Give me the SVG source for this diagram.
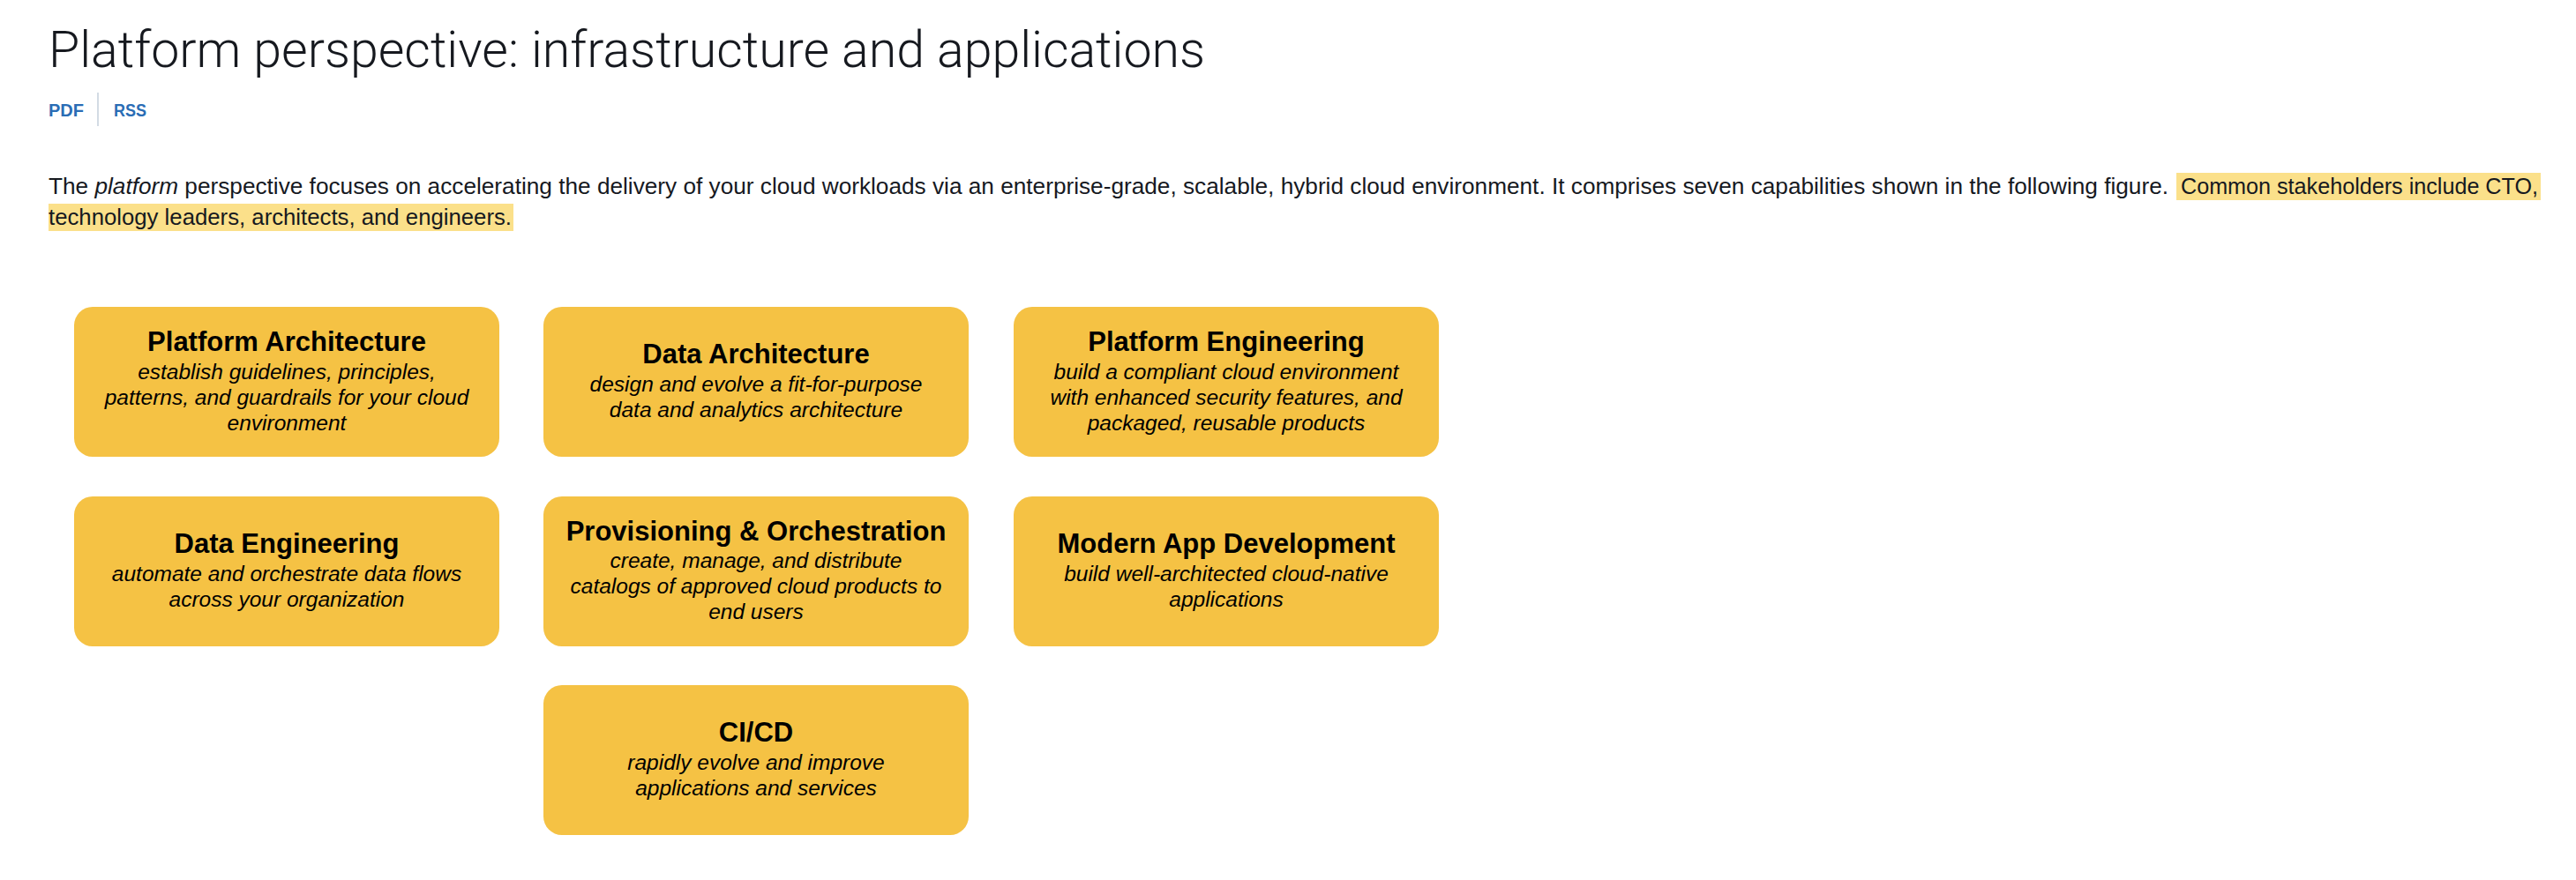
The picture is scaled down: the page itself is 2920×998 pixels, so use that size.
<svg xmlns="http://www.w3.org/2000/svg" width="2920" height="998" viewBox="0 0 2920 998">
<style>
.h1{font-family:Roboto,"Liberation Sans",Arial,sans-serif;font-weight:300;font-size:57px;fill:#16191f}
.lnk{font-family:"Liberation Sans",Arial,sans-serif;font-weight:bold;font-size:20px;fill:#2a6db5}
.body{font-family:"Liberation Sans",Arial,sans-serif;font-size:25.5px;fill:#16191f}
.hl{fill:#fbe08a}
.box{fill:#f5c244}
.t{font-family:"Liberation Sans",Arial,sans-serif;font-weight:bold;font-size:31px;fill:#000;text-anchor:middle}
.d{font-family:"Liberation Sans",Arial,sans-serif;font-style:italic;font-size:24.5px;fill:#000;text-anchor:middle}
</style>
<rect width="2920" height="998" fill="#ffffff"/>
<g id="header">
<text class="h1" x="55" y="76" textLength="1311" lengthAdjust="spacingAndGlyphs">Platform perspective: infrastructure and applications</text>
<text class="lnk" x="55" y="132">PDF</text>
<line x1="111" y1="105" x2="111" y2="143" stroke="#c4cfdb" stroke-width="1.5"/>
<text class="lnk" x="129" y="132" textLength="37" lengthAdjust="spacingAndGlyphs">RSS</text>
</g>
<g id="intro">
<rect class="hl" x="2467" y="196" width="413" height="31"/>
<rect class="hl" x="55" y="231" width="527" height="31"/>
<text class="body" x="55" y="220" textLength="2403" lengthAdjust="spacingAndGlyphs">The <tspan font-style="italic">platform</tspan> perspective focuses on accelerating the delivery of your cloud workloads via an enterprise-grade, scalable, hybrid cloud environment. It comprises seven capabilities shown in the following figure.</text>
<text class="body" x="2472" y="220" textLength="405" lengthAdjust="spacingAndGlyphs">Common stakeholders include CTO,</text>
<text class="body" x="55" y="255" textLength="525" lengthAdjust="spacingAndGlyphs">technology leaders, architects, and engineers.</text>
</g>
<g id="connectors"></g>
<g id="platform-architecture">
<rect class="box" x="84" y="348" width="482" height="170" rx="21"/>
<text class="t" x="325" y="398">Platform Architecture</text>
<text class="d" x="325" y="430">establish guidelines, principles,</text>
<text class="d" x="325" y="459">patterns, and guardrails for your cloud</text>
<text class="d" x="325" y="488">environment</text>
</g>
<g id="data-architecture">
<rect class="box" x="616" y="348" width="482" height="170" rx="21"/>
<text class="t" x="857" y="412">Data Architecture</text>
<text class="d" x="857" y="444">design and evolve a fit-for-purpose</text>
<text class="d" x="857" y="473">data and analytics architecture</text>
</g>
<g id="platform-engineering">
<rect class="box" x="1149" y="348" width="482" height="170" rx="21"/>
<text class="t" x="1390" y="398">Platform Engineering</text>
<text class="d" x="1390" y="430">build a compliant cloud environment</text>
<text class="d" x="1390" y="459">with enhanced security features, and</text>
<text class="d" x="1390" y="488">packaged, reusable products</text>
</g>
<g id="data-engineering">
<rect class="box" x="84" y="563" width="482" height="170" rx="21"/>
<text class="t" x="325" y="627">Data Engineering</text>
<text class="d" x="325" y="659">automate and orchestrate data flows</text>
<text class="d" x="325" y="688">across your organization</text>
</g>
<g id="provisioning-orchestration">
<rect class="box" x="616" y="563" width="482" height="170" rx="21"/>
<text class="t" x="857" y="613">Provisioning &amp; Orchestration</text>
<text class="d" x="857" y="644">create, manage, and distribute</text>
<text class="d" x="857" y="673">catalogs of approved cloud products to</text>
<text class="d" x="857" y="702">end users</text>
</g>
<g id="modern-app-development">
<rect class="box" x="1149" y="563" width="482" height="170" rx="21"/>
<text class="t" x="1390" y="627">Modern App Development</text>
<text class="d" x="1390" y="659">build well-architected cloud-native</text>
<text class="d" x="1390" y="688">applications</text>
</g>
<g id="ci-cd">
<rect class="box" x="616" y="777" width="482" height="170" rx="21"/>
<text class="t" x="857" y="841">CI/CD</text>
<text class="d" x="857" y="873">rapidly evolve and improve</text>
<text class="d" x="857" y="902">applications and services</text>
</g>
</svg>
